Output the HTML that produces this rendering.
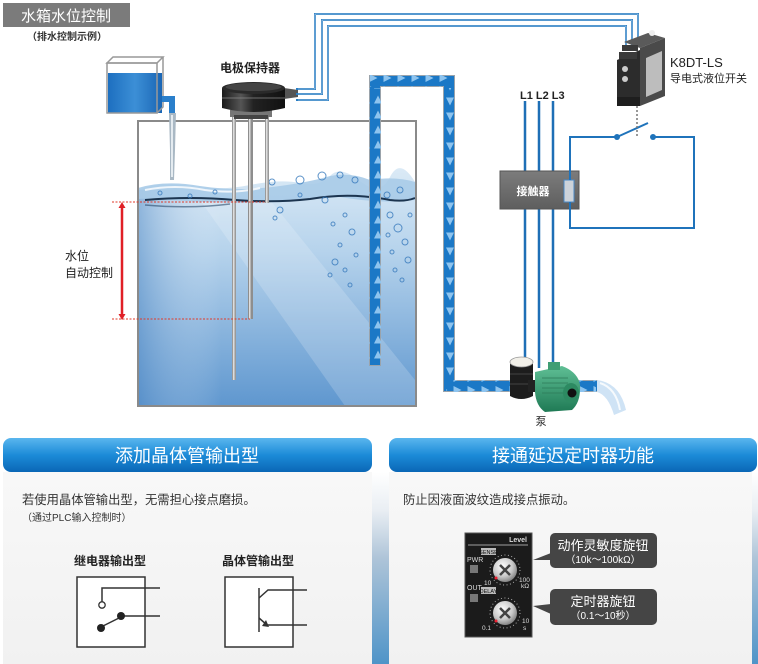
<!DOCTYPE html>
<html><head><meta charset="utf-8"><style>
html,body{margin:0;padding:0;background:#fff;}
body{width:758px;height:664px;overflow:hidden;position:relative;}
svg{position:absolute;left:0;top:0;}
</style></head><body>
<svg width="758" height="664" viewBox="0 0 758 664" xmlns="http://www.w3.org/2000/svg" font-family="'Liberation Sans','Noto Sans CJK SC',sans-serif">
<defs>
<linearGradient id="water" x1="0" y1="0" x2="0" y2="1">
<stop offset="0" stop-color="#dbeaf6"/><stop offset="0.35" stop-color="#b6d3ec"/><stop offset="1" stop-color="#5f97cf"/>
</linearGradient>
<linearGradient id="tankL" x1="0" y1="0" x2="1" y2="0">
<stop offset="0" stop-color="#4f88c4" stop-opacity="0.5"/><stop offset="0.3" stop-color="#fff" stop-opacity="0"/>
</linearGradient>
<linearGradient id="banner" x1="0" y1="0" x2="0" y2="1">
<stop offset="0" stop-color="#5ab6ee"/><stop offset="0.5" stop-color="#1c8bd8"/><stop offset="1" stop-color="#0a67b6"/>
</linearGradient>
<linearGradient id="panel" x1="0" y1="0" x2="0" y2="1">
<stop offset="0" stop-color="#f8f8f8"/><stop offset="1" stop-color="#f1f1f1"/>
</linearGradient>
<linearGradient id="strip" x1="0" y1="0" x2="0" y2="1">
<stop offset="0" stop-color="#ffffff"/><stop offset="0.2" stop-color="#e9eef3"/><stop offset="0.45" stop-color="#aec4d8"/><stop offset="1" stop-color="#4f94c8"/>
</linearGradient>
<linearGradient id="smallw" x1="0" y1="0" x2="1" y2="0">
<stop offset="0" stop-color="#1d6fc0"/><stop offset="0.5" stop-color="#3c8fd6"/><stop offset="1" stop-color="#1a66b5"/>
</linearGradient>
<linearGradient id="cont" x1="0" y1="0" x2="0" y2="1">
<stop offset="0" stop-color="#7c7c7c"/><stop offset="1" stop-color="#5e5e5e"/>
</linearGradient>
<linearGradient id="holder" x1="0" y1="0" x2="1" y2="0">
<stop offset="0" stop-color="#1a1a1a"/><stop offset="0.3" stop-color="#555"/><stop offset="0.5" stop-color="#222"/><stop offset="1" stop-color="#111"/>
</linearGradient>
<linearGradient id="motor" x1="0" y1="0" x2="0" y2="1">
<stop offset="0" stop-color="#5fbf95"/><stop offset="1" stop-color="#1f7a55"/>
</linearGradient>
<radialGradient id="knob" cx="0.4" cy="0.35" r="0.7">
<stop offset="0" stop-color="#ffffff"/><stop offset="0.6" stop-color="#c9c9c9"/><stop offset="1" stop-color="#7a7a7a"/>
</radialGradient>
<pattern id="pu" x="0" y="2" width="12" height="15" patternUnits="userSpaceOnUse"><polygon points="2,11.5 10,11.5 6,3.5" fill="#8ec4ef"/></pattern>
<pattern id="pd" x="0" y="4" width="12" height="15" patternUnits="userSpaceOnUse"><polygon points="2,3.5 10,3.5 6,11.5" fill="#8ec4ef"/></pattern>
<pattern id="pr" x="2" y="0" width="14" height="12" patternUnits="userSpaceOnUse"><polygon points="3.5,2 3.5,10 11.5,6" fill="#8ec4ef"/></pattern>
</defs>

<!-- title -->
<rect x="3" y="3" width="127" height="24" fill="#7b7b7b"/>
<text x="66" y="21" font-size="15" fill="#fff" text-anchor="middle">水箱水位控制</text>
<text x="27" y="40" font-size="10" font-weight="bold" fill="#333">（排水控制示例）</text>

<!-- main tank -->
<rect x="138" y="121" width="278" height="285" fill="#fff"/>
<path d="M138,190 Q160,181 190,186 T250,185 T300,183 T330,176 T360,181 T390,177 T415,182 L415,406 L138,406 Z" fill="url(#water)"/>
<rect x="138" y="190" width="278" height="216" fill="url(#tankL)"/>
<polygon points="200,200 270,200 415,380 415,406 345,406" fill="#fff" opacity="0.18"/>
<path d="M138,188 Q165,180 200,186 Q240,192 280,186 Q310,182 330,176 Q350,172 370,180 Q395,176 415,182 L415,200 Q380,204 340,197 Q300,200 260,203 Q210,203 170,200 Q150,198 138,199 Z" fill="#a9cbe8" opacity="0.9"/>
<path d="M145,200 Q190,196 235,200 Q275,203 310,199 Q350,192 390,200 Q405,202 415,198" fill="none" stroke="#1c3550" stroke-width="2"/>
<path d="M145,205 Q190,209 230,204" fill="none" stroke="#2a4a6a" stroke-width="1.5" opacity="0.6"/>
<path d="M145,190 Q175,184 205,190 Q235,194 260,188" fill="none" stroke="#fff" stroke-width="2" opacity="0.8"/>
<g fill="none" stroke="#3f7fbf" stroke-width="1" opacity="0.85">
<circle cx="272" cy="182" r="3"/><circle cx="300" cy="180" r="4"/><circle cx="322" cy="176" r="4"/><circle cx="340" cy="175" r="3"/><circle cx="355" cy="180" r="3"/>
<circle cx="280" cy="210" r="3"/><circle cx="275" cy="218" r="2"/><circle cx="325" cy="200" r="3"/><circle cx="333" cy="224" r="2"/>
<circle cx="345" cy="215" r="2"/><circle cx="352" cy="232" r="3"/><circle cx="340" cy="245" r="2"/><circle cx="335" cy="262" r="3"/>
<circle cx="345" cy="270" r="2"/><circle cx="356" cy="255" r="2"/><circle cx="330" cy="275" r="2"/><circle cx="350" cy="285" r="2"/>
<circle cx="390" cy="215" r="3"/><circle cx="398" cy="228" r="4"/><circle cx="405" cy="242" r="3"/><circle cx="392" cy="252" r="2"/>
<circle cx="408" cy="260" r="3"/><circle cx="395" cy="270" r="2"/><circle cx="402" cy="280" r="2"/><circle cx="388" cy="235" r="2"/>
<circle cx="410" cy="215" r="2"/><circle cx="387" cy="195" r="3"/><circle cx="400" cy="190" r="3"/><circle cx="300" cy="195" r="2"/>
<circle cx="190" cy="196" r="2"/><circle cx="215" cy="192" r="2"/><circle cx="160" cy="193" r="2"/>
</g>
<rect x="138" y="121" width="278" height="285" fill="none" stroke="#8a8a8a" stroke-width="2"/>

<!-- small tank -->
<polygon points="107,63 113,57 163,57 157,63" fill="#fff" stroke="#999" stroke-width="1.5"/>
<rect x="108" y="73" width="54" height="40" fill="url(#smallw)"/>
<rect x="107" y="63" width="50" height="50" fill="none" stroke="#999" stroke-width="1.5"/>
<polyline points="157,113 163,107 163,57" fill="none" stroke="#999" stroke-width="1.5"/>
<path d="M162,96 L175,96 L175,113 L169,113 L169,102 L162,102 Z" fill="#2a7fcb"/>
<path d="M169,113 L176,113 L175,150 L174,180 L170,180 L170,150 Z" fill="#a9b8c4"/>
<path d="M171,115 L173,115 L173,177 L171,177 Z" fill="#e4ebf0"/>

<!-- rods -->
<rect x="232" y="115" width="4" height="265" fill="#9a9a9a"/><rect x="233" y="115" width="1.5" height="265" fill="#ddd"/>
<rect x="248" y="115" width="5" height="204" fill="#8e8e8e"/><rect x="249" y="115" width="1.5" height="204" fill="#ddd"/>
<rect x="265" y="115" width="4" height="88" fill="#9a9a9a"/><rect x="266" y="115" width="1.5" height="88" fill="#ddd"/>

<!-- holder -->
<rect x="230" y="110" width="42" height="7" fill="#777"/>
<rect x="234" y="115" width="34" height="4" fill="#444"/>
<path d="M284,88 L298,90 L298,97 L284,99 Z" fill="#555"/>
<path d="M222,88 L222,108 Q253,116 285,108 L285,88 Z" fill="url(#holder)"/>
<ellipse cx="253.5" cy="88" rx="31.5" ry="6" fill="#2a2a2a"/>
<ellipse cx="253.5" cy="87" rx="28" ry="4" fill="#444"/>
<line x1="222" y1="98" x2="285" y2="98" stroke="#888" stroke-width="0.8"/>
<text x="220" y="72" font-size="12" font-weight="bold" fill="#222">电极保持器</text>

<!-- wires to K8DT -->
<g fill="none" stroke="#2a7dc2" stroke-width="2">
<polyline points="296,89 315,89 315,14 638,14 638,44"/>
<polyline points="296,94 322,94 322,20 632,20 632,47"/>
<polyline points="296,100 328,100 328,26 626,26 626,50"/>
</g>
<g fill="none" stroke="#d6e8f6" stroke-width="0.6">
<polyline points="298,89 315,89 315,14 638,14 638,44"/>
<polyline points="298,94 322,94 322,20 632,20 632,47"/>
<polyline points="298,100 328,100 328,26 626,26 626,50"/>
</g>

<!-- red level -->
<line x1="112" y1="202" x2="265" y2="202" stroke="#e03a2a" stroke-width="1" stroke-dasharray="2,1.5"/>
<line x1="112" y1="319" x2="250" y2="319" stroke="#e03a2a" stroke-width="1" stroke-dasharray="2,1.5"/>
<line x1="122" y1="207" x2="122" y2="315" stroke="#e01f26" stroke-width="2.5"/>
<polygon points="118.5,208 125.5,208 122,202" fill="#e01f26"/>
<polygon points="118.5,314 125.5,314 122,320" fill="#e01f26"/>
<text x="65" y="260" font-size="12" fill="#222">水位</text>
<text x="65" y="277" font-size="12" fill="#222">自动控制</text>

<!-- pipe -->
<g>
<rect x="369" y="75" width="12" height="291" fill="#9aa3ab"/>
<rect x="369" y="75" width="86" height="12" fill="#9aa3ab"/>
<rect x="443" y="75" width="12" height="317" fill="#9aa3ab"/>
<rect x="443" y="380" width="155" height="12" fill="#9aa3ab"/>
<rect x="370" y="76" width="10" height="289" fill="#1b78c6"/>
<rect x="370" y="76" width="84" height="10" fill="#1b78c6"/>
<rect x="444" y="76" width="10" height="315" fill="#1b78c6"/>
<rect x="444" y="381" width="153" height="10" fill="#1b78c6"/>
<rect x="369" y="88" width="12" height="276" fill="url(#pu)"/>
<rect x="370" y="75" width="80" height="12" fill="url(#pr)"/>
<rect x="443" y="88" width="12" height="290" fill="url(#pd)"/>
<rect x="446" y="380" width="150" height="12" fill="url(#pr)"/>
</g>

<!-- outflow -->
<path d="M597,380 Q620,383 626,410 L614,415 Q608,395 597,392 Z" fill="#cfe3f5"/>
<path d="M600,383 Q616,388 620,410" fill="none" stroke="#fff" stroke-width="2" opacity="0.8"/>

<!-- L lines -->
<g stroke="#1e6fb6" stroke-width="2.5">
<line x1="525" y1="101" x2="525" y2="358"/>
<line x1="539" y1="101" x2="539" y2="368"/>
<line x1="553" y1="101" x2="553" y2="368"/>
</g>
<text x="520" y="99" font-size="11" font-weight="bold" fill="#222">L1 L2 L3</text>

<!-- contactor -->
<rect x="500" y="171" width="79" height="38" fill="url(#cont)" stroke="#555" stroke-width="1"/>
<text x="533" y="195" font-size="11" font-weight="bold" fill="#fff" text-anchor="middle">接触器</text>
<rect x="564" y="180" width="10" height="22" fill="#cdd3da" stroke="#4b88c4" stroke-width="1"/>

<!-- switch wiring -->
<g fill="none" stroke="#1f73bb" stroke-width="2">
<polyline points="617,137 570,137 570,180"/>
<polyline points="653,137 694,137 694,228 570,228 570,202"/>
<line x1="617" y1="137" x2="648" y2="123"/>
</g>
<circle cx="617" cy="137" r="3" fill="#1f73bb"/>
<circle cx="653" cy="137" r="3" fill="#1f73bb"/>
<line x1="637" y1="106" x2="637" y2="138" stroke="#777" stroke-width="1.5" stroke-dasharray="2,2"/>

<!-- K8DT device -->
<polygon points="624,42 648,33 665,38 640,48" fill="#5a5a5a"/>
<polygon points="617,60 640,50 640,106 617,106" fill="#2c2c2c"/>
<polygon points="640,48 665,38 665,96 640,106" fill="#4a4a4a"/>
<polygon points="646,58 662,51 662,90 646,97" fill="#bdbdbd"/>
<rect x="622" y="45" width="16" height="6" fill="#3a3a3a"/>
<rect x="619" y="52" width="18" height="7" fill="#3a3a3a"/>
<circle cx="625" cy="69" r="3" fill="#ccc"/>
<circle cx="625" cy="79" r="3" fill="#ccc"/>
<rect x="617" y="97" width="23" height="9" fill="#1e1e1e"/>
<circle cx="652" cy="33" r="3" fill="#eee"/>
<text x="670" y="67" font-size="13" fill="#222">K8DT-LS</text>
<text x="670" y="82" font-size="11" fill="#222">导电式液位开关</text>

<!-- pump -->
<path d="M510,364 L510,396 Q521,402 533,396 L533,364 Z" fill="#1d1d1d"/>
<line x1="510" y1="374" x2="533" y2="374" stroke="#444" stroke-width="1"/>
<line x1="510" y1="384" x2="533" y2="384" stroke="#444" stroke-width="1"/>
<ellipse cx="521.5" cy="362" rx="11.5" ry="5" fill="#f1efe8" stroke="#999" stroke-width="0.8"/>
<rect x="528" y="380" width="10" height="12" fill="#222"/>
<path d="M535,372 L562,366 Q578,372 580,385 Q581,402 572,410 L545,412 Q536,406 535,392 Z" fill="url(#motor)"/>
<rect x="548" y="362" width="12" height="8" fill="#3f9e74"/>
<g stroke="#2c7a58" stroke-width="0.8"><line x1="542" y1="378" x2="568" y2="378"/><line x1="542" y1="383" x2="568" y2="383"/><line x1="542" y1="388" x2="568" y2="388"/><line x1="542" y1="393" x2="568" y2="393"/></g>
<ellipse cx="571" cy="393" rx="8" ry="10" fill="#2d8a62"/>
<circle cx="572" cy="393" r="4.5" fill="#111"/>
<text x="541" y="425" font-size="11" fill="#222" text-anchor="middle">泵</text>

<!-- bottom background -->
<rect x="0" y="472" width="758" height="192" fill="url(#panel)"/>
<rect x="372" y="472" width="17" height="192" fill="url(#strip)"/>
<rect x="752" y="472" width="6" height="192" fill="url(#strip)"/>
<rect x="0" y="472" width="3" height="192" fill="#fff"/>

<!-- banners -->
<rect x="3" y="438" width="369" height="34" rx="8" fill="url(#banner)"/>
<rect x="389" y="438" width="368" height="34" rx="8" fill="url(#banner)"/>
<text x="187" y="462" font-size="18" fill="#fff" text-anchor="middle">添加晶体管输出型</text>
<text x="573" y="462" font-size="18" fill="#fff" text-anchor="middle">接通延迟定时器功能</text>

<!-- left panel -->
<text x="22" y="504" font-size="12.3" fill="#333">若使用晶体管输出型，无需担心接点磨损。</text>
<text x="22" y="521" font-size="10" fill="#333">（通过PLC输入控制时）</text>
<text x="74" y="565" font-size="12" font-weight="bold" fill="#222">继电器输出型</text>
<text x="222" y="565" font-size="12" font-weight="bold" fill="#222">晶体管输出型</text>

<g fill="none" stroke="#333" stroke-width="1.5">
<rect x="77" y="577" width="68" height="70" fill="#fff"/>
<polyline points="160,588 102,588 102,602"/>
<line x1="121" y1="616" x2="160" y2="616"/>
<line x1="101" y1="627" x2="121" y2="617"/>
<rect x="225" y="577" width="68" height="70" fill="#fff"/>
<line x1="259" y1="588" x2="259" y2="632"/>
<polyline points="259,598 268,590 307,590"/>
<polyline points="259,618 267,625 307,625"/>
</g>
<circle cx="102" cy="605" r="3.2" fill="#fff" stroke="#333" stroke-width="1.3"/>
<circle cx="101" cy="628" r="4" fill="#222"/>
<circle cx="121" cy="616" r="4" fill="#222"/>
<polygon points="269,627 262,626 266,620" fill="#333"/>

<!-- right panel -->
<text x="403" y="504" font-size="12.3" fill="#333">防止因液面波纹造成接点振动。</text>

<rect x="465" y="533" width="67" height="104" fill="#1b1b1b" stroke="#555" stroke-width="1"/>
<text x="527" y="542" font-size="7" font-weight="bold" fill="#ddd" text-anchor="end">Level</text>
<line x1="468" y1="545" x2="528" y2="545" stroke="#ccc" stroke-width="0.8"/>
<rect x="481" y="548" width="15" height="7" fill="#bbb"/>
<text x="488.5" y="554" font-size="5.5" fill="#111" text-anchor="middle">SENSE</text>
<text x="467" y="562" font-size="7" fill="#ddd">PWR</text>
<rect x="470" y="565" width="8" height="8" fill="#777"/>
<text x="467" y="590" font-size="7" fill="#ddd">OUT</text>
<rect x="470" y="594" width="8" height="8" fill="#777"/>
<rect x="481" y="587" width="15" height="7" fill="#bbb"/>
<text x="488.5" y="593" font-size="5.5" fill="#111" text-anchor="middle">DELAY</text>
<circle cx="505" cy="570" r="15" fill="none" stroke="#aaa" stroke-width="1" stroke-dasharray="1,2.5"/>
<circle cx="505" cy="570" r="12" fill="url(#knob)"/>
<path d="M500,565 L510,575 M510,565 L500,575" stroke="#444" stroke-width="2.5"/>
<circle cx="496" cy="578" r="1.5" fill="#e23"/>
<text x="484" y="585" font-size="6.5" fill="#ddd">10</text>
<text x="519" y="582" font-size="6.5" fill="#ddd">100</text>
<text x="521" y="588" font-size="6.5" fill="#ddd">kΩ</text>
<circle cx="505" cy="613" r="15" fill="none" stroke="#aaa" stroke-width="1" stroke-dasharray="1,2.5"/>
<circle cx="505" cy="613" r="12" fill="url(#knob)"/>
<path d="M500,608 L510,618 M510,608 L500,618" stroke="#444" stroke-width="2.5"/>
<circle cx="496" cy="621" r="1.5" fill="#e23"/>
<text x="482" y="630" font-size="6.5" fill="#ddd">0.1</text>
<text x="522" y="623" font-size="6.5" fill="#ddd">10</text>
<text x="523" y="630" font-size="6.5" fill="#ddd">s</text>

<rect x="550" y="533" width="107" height="35" rx="5" fill="#454545"/>
<polygon points="551,553 533,560 551,560" fill="#454545"/>
<text x="603" y="550" font-size="13" fill="#fff" text-anchor="middle">动作灵敏度旋钮</text>
<text x="603" y="563" font-size="10" fill="#fff" text-anchor="middle">（10k～100kΩ）</text>
<rect x="550" y="589" width="107" height="36" rx="5" fill="#454545"/>
<polygon points="551,604 533,606 551,614" fill="#454545"/>
<text x="603" y="606" font-size="13" fill="#fff" text-anchor="middle">定时器旋钮</text>
<text x="603" y="619" font-size="10" fill="#fff" text-anchor="middle">（0.1～10秒）</text>
</svg>
</body></html>
